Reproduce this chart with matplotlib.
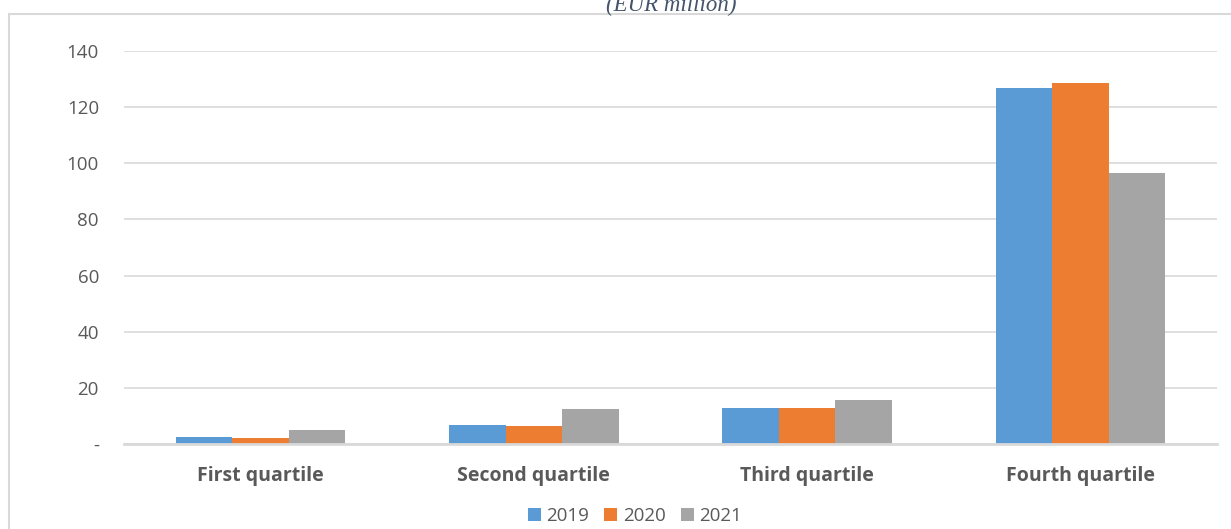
import numpy as np
import matplotlib.pyplot as plt
from matplotlib.patches import Rectangle
from matplotlib.ticker import FuncFormatter

categories = ["First quartile", "Second quartile", "Third quartile", "Fourth quartile"]
years = ["2019", "2020", "2021"]
v2019 = [2.6, 6.8, 12.9, 126.7]
v2020 = [2.3, 6.5, 12.9, 128.5]
v2021 = [4.9, 12.4, 15.8, 96.4]
colors = ["#5B9BD5", "#ED7D31", "#A5A5A5"]

plt.rcParams['font.family'] = ['Open Sans', 'DejaVu Sans']

fig = plt.figure(figsize=(12.31, 5.29), dpi=100)
ax = fig.add_axes([124/1231, 85/529, (1217-124)/1231, 393/529])

# frame around the chart
fig.patches.append(Rectangle((9/1231, -0.05), 1.1, (529-14)/529 + 0.05,
                             transform=fig.transFigure, fill=False,
                             edgecolor="#D9D9D9", linewidth=1.5))

x = np.arange(len(categories))
w = 0.207
for i, (vals, yr) in enumerate(zip([v2019, v2020, v2021], years)):
    ax.bar(x + (i - 1) * w, vals, width=w, color=colors[i], label=yr, zorder=3)

ax.set_xlim(-0.5, 3.5)
ax.set_ylim(0, 140)
ax.set_yticks(range(0, 141, 20))
ax.yaxis.set_major_formatter(FuncFormatter(lambda v, p: "-" if v == 0 else f"{v:.0f}"))
ax.set_xticks(x)
ax.set_xticklabels(categories, fontweight="bold", fontsize=14, color="#595959")
ax.tick_params(axis="y", labelsize=13.5, labelcolor="#595959", length=0, pad=18)
ax.tick_params(axis="x", length=0, pad=16)

ax.grid(axis="y", color="#D9D9D9", linewidth=1.2, zorder=0)
for s in ["top", "right", "left"]:
    ax.spines[s].set_visible(False)
ax.spines["bottom"].set_color("#D9D9D9")
ax.spines["bottom"].set_linewidth(2)
ax.spines["bottom"].set_zorder(4)

fig.text(671/1231, (529-11)/529, "(EUR million)", ha="center", va="baseline",
         fontsize=16.5, style="italic", family="Liberation Serif", color="#44546A")

fig.legend(loc="center", bbox_to_anchor=(635/1231, 13/529), ncol=3, frameon=False,
           fontsize=13.5, labelcolor="#595959", handlelength=0.7, handleheight=0.7,
           handletextpad=0.3, columnspacing=0.8)

fig.savefig("out.png", dpi=100)
